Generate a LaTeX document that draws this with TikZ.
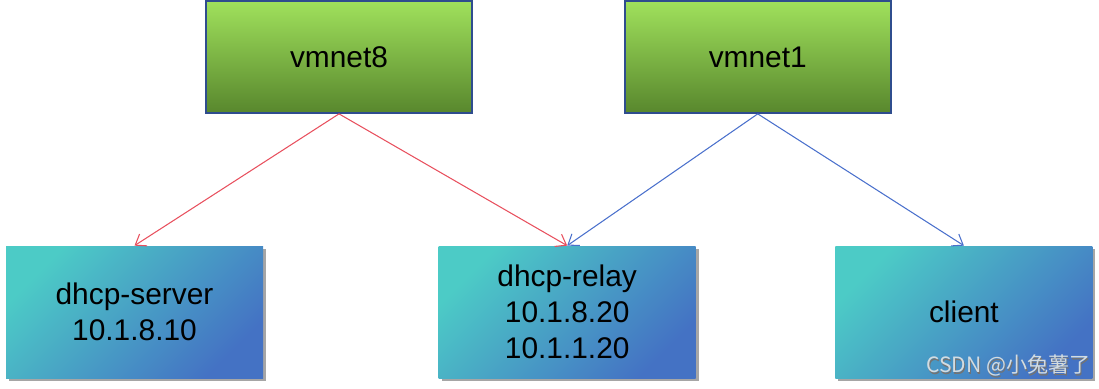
\documentclass[tikz,border=0pt]{standalone}
\usepackage{xcolor}
\usepackage{fontspec}
\setmainfont{Liberation Sans}
\newfontfamily\cjk{Noto Sans CJK SC}
\usepackage{tikz}
\usetikzlibrary{shapes,arrows.meta,positioning,calc,shadows}
\definecolor{NetGreenTop}{HTML}{A0E15C}
\definecolor{NetGreenBottom}{HTML}{58872D}
\definecolor{NetBorder}{HTML}{2F4D8E}
\definecolor{HostTeal}{HTML}{4CCBC6}
\definecolor{HostBlue}{HTML}{4472C4}
\definecolor{LinkRed}{HTML}{E8505E}
\definecolor{LinkBlue}{HTML}{4A70CC}
\definecolor{MarkGray}{HTML}{D2DCE2}

\begin{document}
\begin{tikzpicture}[node distance=0.5cm, auto]
  \tikzstyle{net} = [rectangle, draw=NetBorder, top color=NetGreenTop, bottom color=NetGreenBottom, minimum width=5.32cm, minimum height=2.24cm, line width=1pt, font=\fontsize{17}{20}\selectfont]
  \tikzstyle{host} = [rectangle, top color=HostTeal, bottom color=HostBlue, shading angle=45, minimum width=5.14cm, minimum height=2.64cm, align=center, drop shadow={shadow xshift=0.06cm, shadow yshift=-0.06cm, fill=black, opacity=0.35}, font=\fontsize{17}{20.5}\selectfont]
  \tikzstyle{link} = [-{Straight Barb[length=5.5pt,width=8pt]}, line width=0.6pt]

  \useasboundingbox (0,0) rectangle (21.98,7.76);

  \node [net] (vm8) at (6.78,6.62) {vmnet8};
  \node [net, right=3.02cm of vm8] (vm1) {vmnet1};

  \node [host] (server) at (2.69,1.52) {dhcp-server\\10.1.8.10};
  \node [host, right=3.5cm of server] (relay) {dhcp-relay\\10.1.8.20\\10.1.1.20};
  \node [host, right=2.78cm of relay] (client) {client};

  % links
  \draw [link, LinkRed] (vm8.south) -- (server.north);
  \draw [link, LinkRed] (vm8.south) -- (relay.north);
  \draw [link, LinkBlue] (vm1.south) -- (relay.north);
  \draw [link, LinkBlue] (vm1.south) -- (client.north);

  % watermark
  \node [anchor=south east, inner sep=1pt, text=black!55, font=\cjk\fontsize{12}{14}\selectfont] (markshadow) at ($(client.south east)+(0.02,-0.03)$) {CSDN @小兔薯了};
  \node [anchor=south east, inner sep=1pt, text=MarkGray, font=\cjk\fontsize{12}{14}\selectfont] (mark) at (client.south east) {CSDN @小兔薯了};
\end{tikzpicture}
\end{document}
